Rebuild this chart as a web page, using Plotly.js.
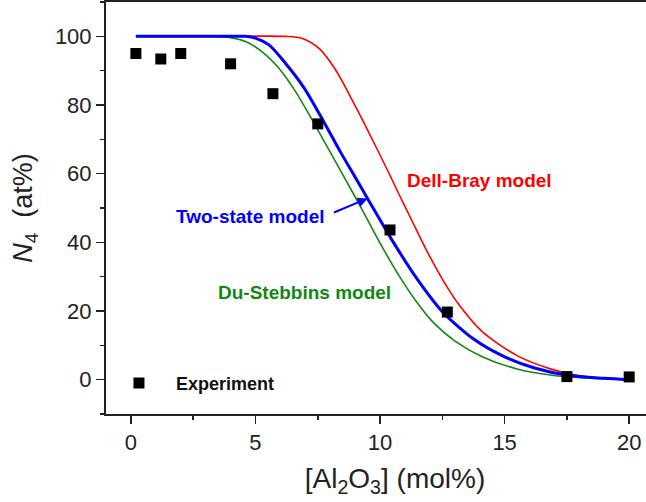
<!DOCTYPE html>
<html>
<head>
<meta charset="utf-8">
<script src="https://cdn.plot.ly/plotly-3.0.1.min.js"></script>
<style>
html, body { margin: 0; padding: 0; overflow: hidden; background: #fff; }
#chart { width: 684px; height: 502px; }
</style>
</head>
<body>
<div id="chart"></div>
<script>
// Experimental data
const expX = [0.2, 1.2, 2.0, 4.0, 5.7, 7.5, 10.4, 12.7, 17.5, 20.0];
const expY = [95.0, 93.4, 95.0, 92.0, 83.3, 74.5, 43.6, 19.7, 0.9, 0.8];

// Dell-Bray model (red)
const dbX = [0.2, 2, 4, 6.2, 6.88, 7.55, 8.22, 9.02, 9.56, 10.3, 10.76, 11.3, 11.83, 12.5, 13.2, 14.1, 15.5, 16.9, 18.0, 19.0, 20.0];
const dbY = [100, 100, 100, 100, 99.4, 96.5, 90.2, 79.5, 71.8, 61.0, 54.0, 46.0, 38.2, 29.3, 21.5, 14.0, 7.0, 3.0, 1.1, 0.4, 0];

// Du-Stebbins model (green)
const dsX = [0.2, 2, 3.33, 3.94, 4.6, 5.27, 5.94, 6.61, 7.28, 7.95, 8.62, 9.29, 9.96, 10.76, 11.5, 12.14, 12.98, 14.1, 15.5, 16.9, 18.3, 20.0];
const dsY = [100, 100, 100, 99.7, 98.5, 95.5, 90.7, 83.9, 75.6, 66.9, 58.2, 49.4, 40.3, 30.3, 22.3, 16.6, 11.4, 6.7, 3.1, 1.3, 0.5, 0];

// Two-state model (blue)
const tsX = [0.2, 2, 4, 4.6, 5.0, 5.54, 6.21, 6.95, 7.75, 8.42, 8.96, 9.56, 10.45, 11.5, 12.5, 13.8, 14.9, 16.2, 17.6, 19.0, 20.0];
const tsY = [100, 100, 100, 100, 99.5, 97.5, 92.1, 85.0, 75.0, 66.2, 59.5, 52.0, 41.0, 29.2, 19.8, 11.6, 7.0, 3.4, 1.2, 0.4, 0];

const xTicks = [0, 5, 10, 15, 20];
const yTicks = [0, 20, 40, 60, 80, 100];

const FONT = "Liberation Sans, Arial, sans-serif";

const traces = [
  { x: dbX, y: dbY, mode: 'lines', line: { color: '#ff0000', width: 1.6, shape: 'spline', smoothing: 0.8 }, showlegend: false, name: 'Dell-Bray model' },
  { x: dsX, y: dsY, mode: 'lines', line: { color: '#118811', width: 1.6, shape: 'spline', smoothing: 0.8 }, showlegend: false, name: 'Du-Stebbins model' },
  { x: tsX, y: tsY, mode: 'lines', line: { color: '#0000ff', width: 3, shape: 'spline', smoothing: 0.8 }, showlegend: false, name: 'Two-state model' },
  { x: expX, y: expY, mode: 'markers', marker: { symbol: 'square', size: 11, color: '#000000' }, name: 'Experiment', showlegend: true }
];

const layout = {
  width: 684, height: 502,
  margin: { l: 106, r: 0, t: 2, b: 88 },
  paper_bgcolor: '#ffffff', plot_bgcolor: '#ffffff',
  font: { family: FONT, color: '#222222' },
  showlegend: true,
  legend: {
    x: -0.007, xanchor: 'left', y: 0.0745, yanchor: 'middle',
    bgcolor: 'rgba(0,0,0,0)', itemwidth: 64,
    font: { family: FONT, size: 18, color: '#111111', weight: 'bold' }
  },
  xaxis: {
    range: [-1, 22.2],
    tickvals: xTicks, ticktext: xTicks.map(String),
    ticks: 'outside', ticklen: 8, tickwidth: 1.5, tickcolor: '#222',
    minor: { dtick: 2.5, tick0: 0, ticks: 'outside', ticklen: 4, tickwidth: 1.5, tickcolor: '#222' },
    showline: true, linecolor: '#222', linewidth: 2, mirror: true,
    showgrid: false, zeroline: false,
    tickfont: { family: FONT, size: 22, color: '#222' },
    title: { text: '[Al<sub>2</sub>O<sub>3</sub>] (mol%)', font: { family: FONT, size: 28, color: '#222' }, standoff: 14 }
  },
  yaxis: {
    range: [-10, 110],
    tickvals: yTicks, ticktext: yTicks.map(String),
    ticks: 'outside', ticklen: 8, tickwidth: 1.5, tickcolor: '#222',
    minor: { dtick: 10, tick0: 0, ticks: 'outside', ticklen: 4, tickwidth: 1.5, tickcolor: '#222' },
    showline: true, linecolor: '#222', linewidth: 2, mirror: true,
    showgrid: false, zeroline: false,
    tickfont: { family: FONT, size: 22, color: '#222' },
    title: { text: '<i>N</i><sub>4</sub>\u00a0\u00a0(at%)', font: { family: FONT, size: 27, color: '#222' }, standoff: 14 }
  },
  annotations: [
    { x: 13.98, y: 58.0, xref: 'x', yref: 'y', text: 'Dell-Bray model', showarrow: false,
      font: { family: FONT, size: 19, color: '#ff0000', weight: 'bold' } },
    { x: 4.81, y: 47.5, xref: 'x', yref: 'y', text: 'Two-state model', showarrow: false,
      font: { family: FONT, size: 19, color: '#0000ff', weight: 'bold' } },
    { x: 6.98, y: 25.3, xref: 'x', yref: 'y', text: 'Du-Stebbins model', showarrow: false,
      font: { family: FONT, size: 19, color: '#118811', weight: 'bold' } },
    { x: 9.5, y: 52.8, xref: 'x', yref: 'y', ax: 8.09, ay: 48.5, axref: 'x', ayref: 'y',
      text: '', showarrow: true, arrowhead: 2, arrowsize: 1, arrowwidth: 2, arrowcolor: '#0000ff' }
  ]
};

Plotly.newPlot('chart', traces, layout, { staticPlot: true, displayModeBar: false });
</script>
</body>
</html>
